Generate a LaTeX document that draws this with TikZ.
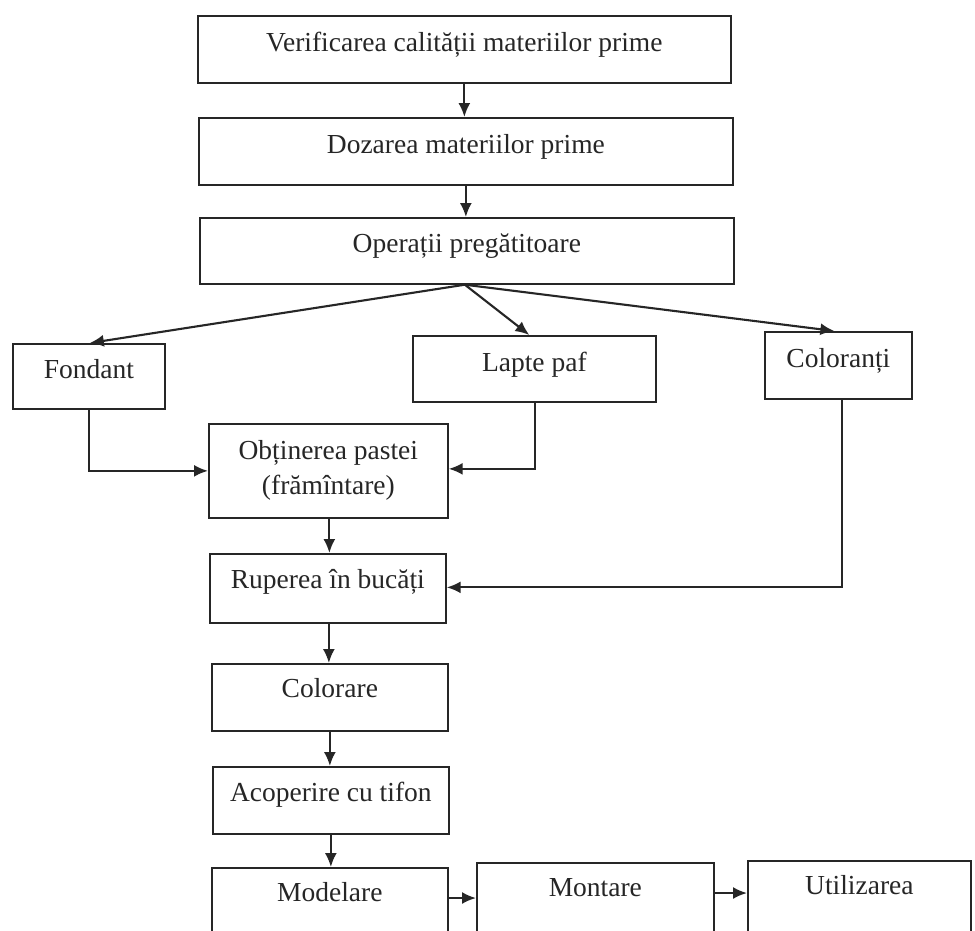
\documentclass[tikz,border=0pt]{standalone}
\usepackage{fontspec}
\setmainfont{Liberation Serif}
\usetikzlibrary{arrows.meta}
\definecolor{ink}{HTML}{262626}
\tikzset{
  stepbox/.style={draw=ink, line width=1.7pt, anchor=north west, inner sep=0pt,
    align=center, text=ink, font=\fontsize{27.5}{35}\selectfont},
  arr/.style={draw=ink, line width=2.1pt, -{Latex[length=14pt,width=12pt]}},
}
\begin{document}
\begin{tikzpicture}[x=1pt,y=-1pt]
\useasboundingbox (0,0) rectangle (975,930);
\clip (0,0) rectangle (975,930);
\fill[white] (0,0) rectangle (975,930);
\node[stepbox, minimum width=533pt, text height=36pt, text depth=31pt] (b1) at (197,15) {Verificarea calității materiilor prime};
\node[stepbox, minimum width=534pt, text height=36pt, text depth=31pt] (b2) at (198,117) {Dozarea materiilor prime};
\node[stepbox, minimum width=534pt, text height=35pt, text depth=31pt] (b3) at (199,217) {Operații pregătitoare};
\node[stepbox, minimum width=152pt, text height=35pt, text depth=30pt] (fond) at (12,343) {Fondant};
\node[stepbox, minimum width=243pt, text height=36pt, text depth=30pt] (lapte) at (412,335) {Lapte paf};
\node[stepbox, minimum width=147pt, text height=36pt, text depth=31pt] (colo) at (764,331) {Coloranți};
\node[stepbox, minimum width=239pt, text height=71pt, text depth=23pt] (obt) at (208,423) {Obținerea pastei\\(frămîntare)};
\node[stepbox, minimum width=236pt, text height=35pt, text depth=34pt] (rup) at (209,553) {Ruperea în bucăți};
\node[stepbox, minimum width=236pt, text height=34pt, text depth=33pt] (colr) at (211,663) {Colorare};
\node[stepbox, minimum width=236pt, text height=35pt, text depth=32pt] (acop) at (212,766) {Acoperire cu tifon};
\node[stepbox, minimum width=236pt, text height=34pt, text depth=50pt] (mod) at (211,867) {Modelare};
\node[stepbox, minimum width=237pt, text height=34pt, text depth=50pt] (mont) at (476,862) {Montare};
\node[stepbox, minimum width=223pt, text height=34pt, text depth=50pt] (util) at (747,860) {Utilizarea};

\draw[arr] (b1) -- (b1.south |- b2.north);
\draw[arr] (b2) -- (b2.south |- b3.north);
\coordinate (sp) at ([xshift=-2pt]b3.south);
\draw[arr] (sp) -- ([xshift=1pt]fond.north);
\draw[arr] (sp) -- ([xshift=-5pt]lapte.north);
\draw[arr] (sp) -- ([xshift=-4pt]colo.north);
\draw[arr] (fond.south) |- (obt.west);
\draw[arr] ([xshift=1pt]lapte.south) |- ([yshift=2pt]obt.east);
\draw[arr] ([xshift=4pt]colo.south) |- ([yshift=1pt]rup.east);
\draw[arr] ([xshift=1pt]obt.south) -- ([xshift=1pt]obt.south |- rup.north);
\draw[arr] ([xshift=1pt]rup.south) -- ([xshift=1pt]rup.south |- colr.north);
\draw[arr] (colr.south) -- (colr.south |- acop.north);
\draw[arr] (acop.south) -- (acop.south |- mod.north);
\draw[arr] ([yshift=-31pt]mod.north east) -- ([yshift=-31pt]mod.north east -| mont.west);
\draw[arr] ([yshift=-31pt]mont.north east) -- ([yshift=-31pt]mont.north east -| util.west);
\end{tikzpicture}
\end{document}
